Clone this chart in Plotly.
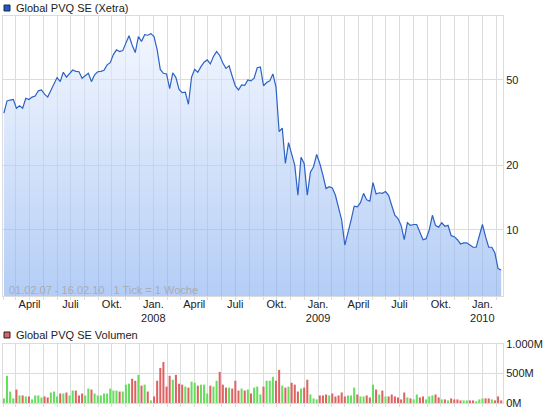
import numpy as np
import pandas as pd
import plotly.graph_objects as go

# weekly closing prices (EUR), Feb 2007 - Feb 2010
price = [35, 39.9, 40.3, 40.6, 36.9, 37.9, 36.9, 41.1, 40.5, 41.6,
         42.1, 44.5, 44.9, 42.9, 41.6, 44.5, 48, 51.3, 49.1, 54.3,
         51.5, 53.3, 55.6, 54.8, 54.6, 50.9, 52.5, 53.7, 49.1, 52.8,
         54.6, 54.8, 55.5, 58.8, 60.2, 65.6, 69.1, 67.8, 68.5, 74,
         80.3, 72.8, 67.1, 79.6, 75.6, 81.2, 80.8, 82.2, 79.6, 69.1,
         56, 53.7, 53.3, 45.6, 54.0, 51.3, 45.2, 43.6, 43.8, 38.5,
         51.5, 56.0, 54.3, 57.7, 60.5, 62.0, 59.4, 64.3, 67.8, 65,
         60, 56.6, 58.2, 52, 46.9, 44.9, 47.4, 47.2, 50, 49.5,
         50.9, 57.0, 57.5, 47.0, 48.6, 49.5, 53.3, 46.4, 28.7, 29.8,
         20.4, 25.5, 22.7, 20.0, 14.5, 21.8, 20.4, 14.5, 18.6, 19.7,
         22.5, 20.4, 18.0, 15.6, 15.9, 15.7, 14.5, 12.6, 11.1, 8.5,
         9.6, 11.1, 12.9, 12.8, 13.4, 14.8, 13.8, 13.6, 16.6, 14.7,
         14.9, 14.8, 15.1, 14.5, 13.0, 11.7, 11.3, 10.5, 9.0, 10.8,
         10.5, 10.6, 10.6, 9.7, 9.0, 9.1, 10.0, 11.7, 10.5, 10.3,
         10.8, 10.4, 10.5, 9.4, 9.3, 9.0, 8.6, 8.7, 8.7, 8.5,
         8.3, 8.3, 9.4, 10.6, 9.3, 8.3, 8.3, 7.8, 6.6, 6.5]

# weekly volume (millions)
volume = [78, 460, 194, 78, 228, 128, 128, 111, 111, 61,
          128, 128, 94, 111, 94, 178, 194, 111, 161, 161,
          178, 128, 211, 211, 128, 161, 128, 244, 228, 161,
          128, 128, 161, 161, 244, 211, 211, 194, 194, 311,
          327, 411, 377, 477, 294, 311, 194, 44, 111, 377,
          594, 694, 278, 461, 394, 477, 327, 311, 278, 261,
          361, 344, 294, 311, 311, 161, 294, 278, 377, 527,
          311, 261, 261, 244, 377, 211, 244, 211, 228, 161,
          261, 278, 144, 278, 377, 377, 444, 377, 561, 294,
          261, 278, 344, 311, 194, 244, 261, 394, 144, 78,
          61, 128, 128, 144, 128, 161, 111, 128, 178, 111,
          128, 128, 261, 144, 111, 111, 128, 94, 311, 228,
          144, 211, 111, 111, 144, 111, 94, 61, 178, 94,
          78, 61, 144, 94, 111, 61, 111, 128, 144, 94,
          61, 61, 44, 78, 61, 61, 44, 44, 44, 44,
          44, 28, 61, 78, 78, 78, 61, 44, 111, 44]

dates = pd.date_range("2007-02-03", "2010-02-12", periods=len(price))

tick_dates = ["2007-04-01", "2007-07-01", "2007-10-01", "2008-01-01",
              "2008-04-01", "2008-07-01", "2008-10-01", "2009-01-01",
              "2009-04-01", "2009-07-01", "2009-10-01", "2010-01-01"]
tick_labels = ["April", "Juli", "Okt.", "Jan.<br>2008",
               "April", "Juli", "Okt.", "Jan.<br>2009",
               "April", "Juli", "Okt.", "Jan.<br>2010"]

GRID = "#dcdcdc"
FONT = "Liberation Sans, Arial, sans-serif"

def bar_colours(vals):
    colours = []
    for i in range(len(vals)):
        if i > 0 and vals[i] < vals[i - 1]:
            colours.append("#dd6363")
        else:
            colours.append("#66dd5c")
    return colours

fig = go.Figure()
fig.add_trace(go.Scatter(
    x=dates, y=price, mode="lines",
    line=dict(color="#2d62c4", width=1.2),
    fill="tozeroy",
    fillgradient=dict(type="vertical", start=4.9, stop=100,
                      colorscale=[[0, "rgba(130,172,240,0.6)"],
                                  [1, "rgba(240,245,255,0.6)"]]),
    xaxis="x", yaxis="y", showlegend=False,
))
fig.add_trace(go.Bar(
    x=dates, y=volume, marker_color=bar_colours(price),
    marker_line_width=0, xaxis="x2", yaxis="y2", showlegend=False,
))

x_common = dict(
    range=["2007-02-01", "2010-02-16"],
    tickmode="array", tickvals=tick_dates,
    showgrid=True, gridcolor=GRID, gridwidth=1,
    minor=dict(tickmode="linear", tick0="2007-01-01", dtick="M1",
               showgrid=True, gridcolor=GRID, ticks="outside",
               ticklen=3, tickcolor=GRID),
    ticks="", ticklabelstandoff=-2,
    showline=True, linecolor=GRID, mirror=True,
    zeroline=False,
)

fig.update_layout(
    template="none",
    width=545, height=413,
    margin=dict(l=3, r=42, t=16, b=10),
    paper_bgcolor="white", plot_bgcolor="white",
    font=dict(family=FONT, size=11, color="#222222"),
    bargap=0.35,
    xaxis=dict(x_common, domain=[0, 1], anchor="y",
               ticktext=tick_labels, tickfont=dict(size=11)),
    yaxis=dict(type="log", domain=[0.2765, 1], range=[np.log10(4.92), 1.997],
               side="right", tickvals=[10, 20, 50], ticktext=["10", "20", "50"],
               showgrid=True, gridcolor=GRID, ticks="", showline=True,
               linecolor=GRID, mirror=True, zeroline=False, anchor="x"),
    xaxis2=dict(x_common, domain=[0, 1], anchor="y2", matches="x",
                showticklabels=False),
    yaxis2=dict(domain=[0, 0.1525], range=[0, 1000], side="right",
                tickvals=[0, 500, 1000], ticktext=["0M", "500M", "1.000M"],
                showgrid=True, gridcolor=GRID, ticks="", showline=True,
                linecolor=GRID, mirror=True, zeroline=False, anchor="x2"),
)

# legend boxes and captions
fig.add_shape(type="rect", xref="paper", yref="paper",
              x0=0.002, x1=0.014, y0=1.0129, y1=1.0284,
              fillcolor="#1f58c0", line=dict(color="#1a2a50", width=1))
fig.add_annotation(text="Global PVQ SE (Xetra)", xref="paper", yref="paper",
                   x=0.022, y=1.0207, xanchor="left", yanchor="middle",
                   showarrow=False, font=dict(size=11, color="#222222"))
fig.add_shape(type="rect", xref="paper", yref="paper",
              x0=0.002, x1=0.014, y0=0.168, y1=0.1835,
              fillcolor="#dd6363", line=dict(color="#222222", width=1))
fig.add_annotation(text="Global PVQ SE Volumen", xref="paper", yref="paper",
                   x=0.022, y=0.176, xanchor="left", yanchor="middle",
                   showarrow=False, font=dict(size=11, color="#222222"))
fig.add_annotation(text="01.02.07 - 16.02.10   1 Tick = 1 Woche",
                   xref="paper", yref="paper", x=0.008, y=0.293,
                   xanchor="left", yanchor="middle", showarrow=False,
                   font=dict(size=11, color="#a8acb4"))

# the page body has a default 8px margin; drop it so the chart sits at 0,0
fig.write_html("out.html", config={"displayModeBar": False},
               post_script="document.body.style.margin='0';")
